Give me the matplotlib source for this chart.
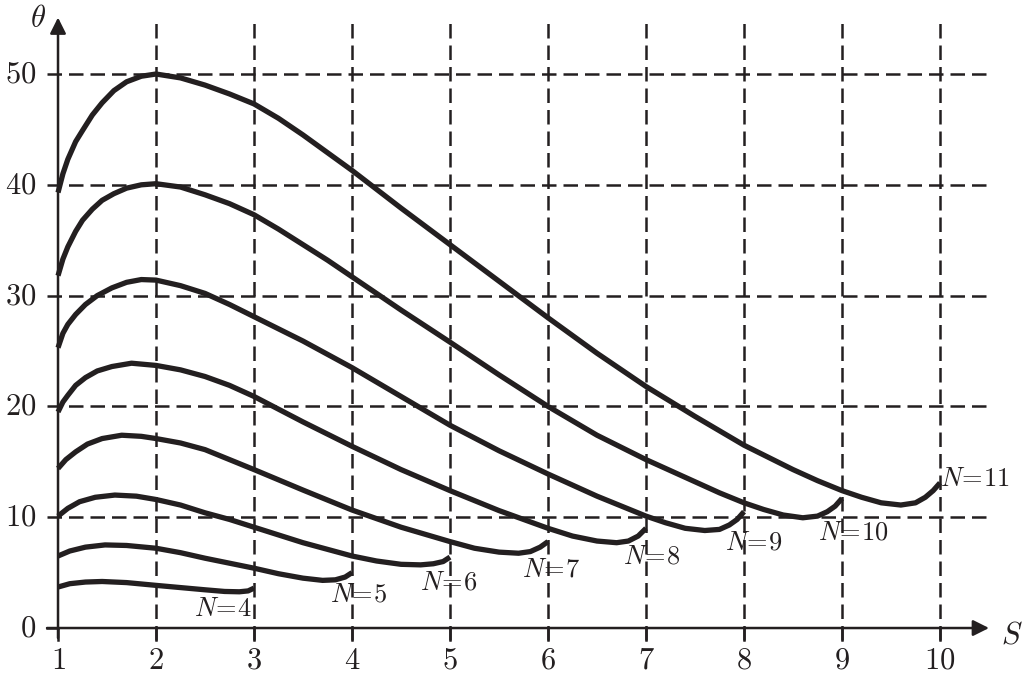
import numpy as np
import matplotlib.pyplot as plt

plt.rcParams['mathtext.fontset'] = 'cm'

# curves theta(S), one per N
s4 = [1.0, 1.12, 1.28, 1.45, 1.7, 2.0, 2.25, 2.5, 2.7, 2.85, 2.94, 3.0]
th4 = [3.7, 4.0, 4.15, 4.2, 4.1, 3.85, 3.65, 3.45, 3.3, 3.27, 3.35, 3.6]

s5 = [1.0, 1.12, 1.28, 1.48, 1.7, 2.0, 2.25, 2.5, 2.75, 3.0, 3.25, 3.5, 3.7, 3.83, 3.93, 4.0]
th5 = [6.5, 6.95, 7.3, 7.5, 7.45, 7.2, 6.8, 6.3, 5.85, 5.4, 4.9, 4.5, 4.3, 4.35, 4.6, 5.0]

s6 = [1.0, 1.1, 1.22, 1.38, 1.58, 1.8, 2.0, 2.25, 2.5, 2.75, 3.0, 3.5, 4.0, 4.25, 4.5, 4.7, 4.83, 4.93, 5.0]
th6 = [10.1, 10.8, 11.4, 11.8, 12.0, 11.9, 11.6, 11.1, 10.4, 9.8, 9.1, 7.7, 6.5, 6.05, 5.75, 5.7, 5.8, 6.0, 6.4]

s7 = [1.0, 1.08, 1.18, 1.3, 1.45, 1.65, 1.85, 2.0, 2.25, 2.5, 2.75, 3.0, 3.5, 4.0, 4.5, 5.0,
      5.25, 5.5, 5.7, 5.82, 5.92, 6.0]
th7 = [14.4, 15.2, 15.9, 16.6, 17.1, 17.4, 17.3, 17.1, 16.7, 16.1, 15.2, 14.3, 12.45, 10.65, 9.1, 7.8,
       7.2, 6.85, 6.75, 6.9, 7.3, 7.8]

s8 = [1.0, 1.05, 1.1, 1.18, 1.28, 1.4, 1.55, 1.75, 2.0, 2.25, 2.5, 2.75, 3.0, 3.5, 4.0, 4.5, 5.0,
      5.5, 6.0, 6.25, 6.5, 6.7, 6.82, 6.92, 7.0]
th8 = [19.5, 20.4, 21.0, 21.9, 22.6, 23.2, 23.6, 23.9, 23.7, 23.3, 22.7, 21.9, 20.9, 18.6, 16.4, 14.3, 12.4,
       10.6, 9.0, 8.3, 7.85, 7.7, 7.85, 8.3, 9.0]

s9 = [1.0, 1.05, 1.1, 1.18, 1.28, 1.4, 1.55, 1.7, 1.85, 2.0, 2.25, 2.5, 2.75, 3.0, 3.5, 4.0, 4.5, 5.0,
      5.5, 6.0, 6.5, 7.0, 7.2, 7.4, 7.6, 7.75, 7.85, 7.93, 8.0]
th9 = [25.3, 26.6, 27.4, 28.3, 29.2, 30.0, 30.7, 31.2, 31.45, 31.4, 30.9, 30.2, 29.2, 28.1, 25.9, 23.5, 20.9, 18.3,
       16.0, 13.9, 11.9, 10.1, 9.5, 9.0, 8.8, 8.9, 9.3, 9.8, 10.5]

s10 = [1.0, 1.05, 1.1, 1.18, 1.25, 1.35, 1.45, 1.57, 1.7, 1.85, 2.0, 2.25, 2.5, 2.75, 3.0, 3.25, 3.5, 3.75,
       4.0, 4.5, 5.0, 5.5, 6.0, 6.5, 7.0, 7.5, 7.75, 8.0, 8.2, 8.4, 8.6, 8.75, 8.85, 8.93, 9.0]
th10 = [31.8, 33.3, 34.4, 35.8, 36.8, 37.8, 38.6, 39.2, 39.7, 40.0, 40.1, 39.8, 39.1, 38.3, 37.3, 36.0, 34.6, 33.2,
        31.7, 28.7, 25.8, 22.85, 20.0, 17.4, 15.2, 13.2, 12.2, 11.3, 10.7, 10.2, 9.95, 10.1, 10.5, 11.0, 11.7]

s11 = [1.0, 1.05, 1.1, 1.18, 1.25, 1.35, 1.45, 1.57, 1.7, 1.85, 2.0, 2.25, 2.5, 2.75, 3.0, 3.25, 3.5, 3.75,
       4.0, 4.5, 5.0, 5.5, 6.0, 6.5, 7.0, 7.5, 8.0, 8.5, 8.75, 9.0, 9.2, 9.4, 9.6, 9.75, 9.85, 9.93, 10.0]
th11 = [39.3, 41.0, 42.3, 43.9, 44.9, 46.3, 47.4, 48.5, 49.3, 49.8, 50.0, 49.65, 49.0, 48.2, 47.3, 46.0, 44.5, 42.9,
        41.3, 37.9, 34.6, 31.3, 28.0, 24.8, 21.8, 19.1, 16.5, 14.3, 13.3, 12.4, 11.8, 11.3, 11.1, 11.3, 11.8, 12.4, 13.1]

curve_n = [4, 5, 6, 7, 8, 9, 10, 11]
curve_s = [s4, s5, s6, s7, s8, s9, s10, s11]
curve_th = [th4, th5, th6, th7, th8, th9, th10, th11]

x_ticks = [1, 2, 3, 4, 5, 6, 7, 8, 9, 10]
y_ticks = [0, 10, 20, 30, 40, 50]

# where the N= labels sit
label_pos = {4: (2.68, 1.7), 5: (4.07, 3.05), 6: (4.99, 4.15), 7: (6.03, 5.3),
             8: (7.06, 6.5), 9: (8.1, 7.75), 10: (9.12, 8.65), 11: (10.36, 13.45)}

ink = '#231f20'

fig = plt.figure(figsize=(10.24, 6.76), dpi=100)
ax = fig.add_axes([0, 0, 1, 1])
ax.set_xlim(0.408, 10.857)
ax.set_ylim(-4.33, 56.68)
ax.axis('off')

# dashed grid
dash = (0, (5.8, 2.8))
for x in x_ticks[1:]:
    ax.plot([x, x], [-1.1, 54.9], color=ink, lw=1.8, ls=dash, zorder=1)
for y in y_ticks[1:]:
    ax.plot([0.89, 10.52], [y, y], color=ink, lw=1.8, ls=dash, zorder=1)

# axes with arrows
ax.annotate('', xy=(10.5, 0), xytext=(0.888, 0),
            arrowprops=dict(arrowstyle='-|>', lw=1.8, color=ink, mutation_scale=24,
                            shrinkA=0, shrinkB=0))
ax.annotate('', xy=(1, 55.1), xytext=(1, -0.9),
            arrowprops=dict(arrowstyle='-|>', lw=1.8, color=ink, mutation_scale=24,
                            shrinkA=0, shrinkB=0))

# tick marks and labels
for x in x_ticks:
    ax.plot([x, x], [-1.1, 0], color=ink, lw=1.8, zorder=2)
    ax.text(x, -2.9, r'$%d$' % x, fontsize=22, ha='center', va='center', color=ink)
for y in y_ticks:
    ax.text(0.78, y, r'$%d$' % y, fontsize=22, ha='right', va='center', color=ink)
ax.plot([0.888, 1], [0, 0], color=ink, lw=1.8)

ax.text(0.80, 55.0, r'$\theta$', fontsize=22, ha='center', va='center', color=ink)
ax.text(10.73, -0.6, r'$S$', fontsize=22, ha='center', va='center', color=ink)

# curves
for n, s, th in zip(curve_n, curve_s, curve_th):
    ax.plot(s, th, color=ink, lw=3.8, solid_capstyle='butt', solid_joinstyle='round', zorder=3)
    lx, ly = label_pos[n]
    ax.text(lx, ly, r'$N\!=\!%d$' % n, fontsize=19, ha='center', va='center', color=ink)

fig.savefig('out.png', dpi=100)
